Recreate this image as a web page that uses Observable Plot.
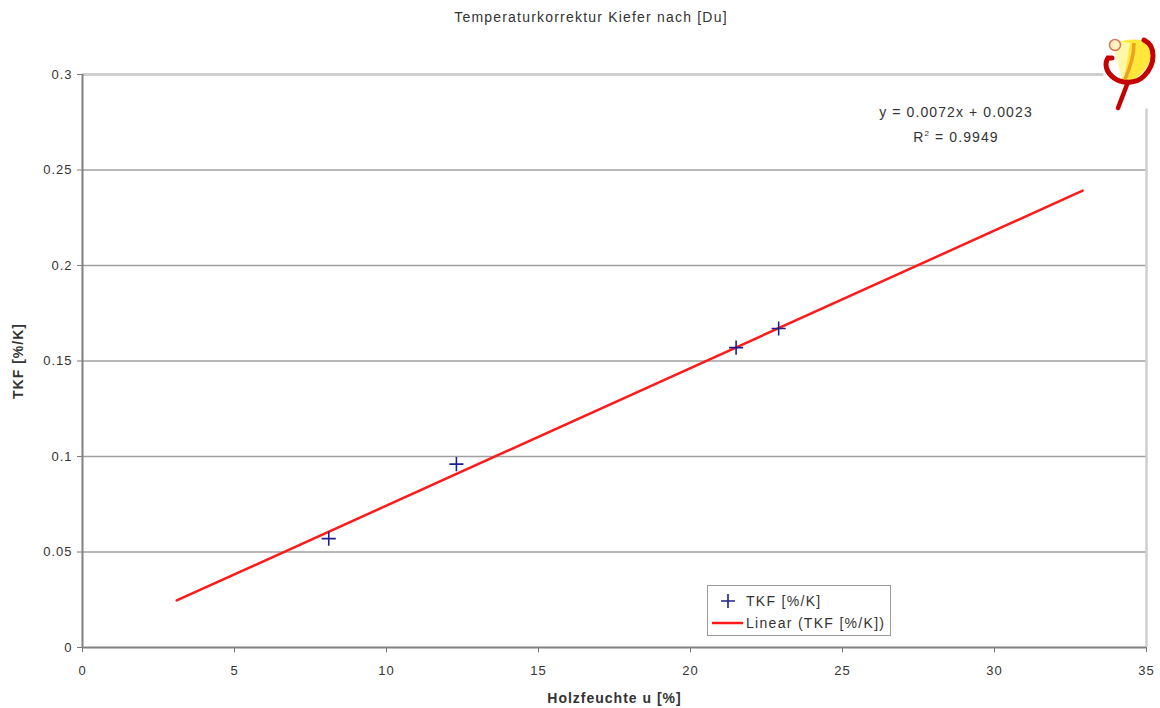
<!DOCTYPE html>
<html>
<head>
<meta charset="utf-8">
<script src="https://cdn.jsdelivr.net/npm/d3@7"></script>
<script src="https://cdn.jsdelivr.net/npm/@observablehq/plot@0.6"></script>
<style>
  html, body { margin: 0; padding: 0; background: #fff; }
  #wrap { position: relative; width: 1160px; height: 708px; font-family: "Liberation Sans", Arial, sans-serif; color: #333; }
  #title { position: absolute; left: 0; width: 1182px; top: 9px; text-align: center; font-size: 14px; letter-spacing: 1.2px; }
  #logo { position: absolute; left: 1098px; top: 34px; }
  .eq { position: absolute; font-size: 14px; letter-spacing: 1.1px; text-align: center; width: 220px; left: 846px; }
  #legend { position: absolute; left: 707px; top: 585px; width: 182px; height: 49px; border: 1.5px solid #999; background: #fff; font-size: 14px; letter-spacing: 1.3px; white-space: nowrap; }
  #legend .row { position: absolute; left: 0; height: 20px; line-height: 20px; }
  svg text { font-family: "Liberation Sans", Arial, sans-serif; }
  #chart svg text { letter-spacing: 1px; }
</style>
</head>
<body>
<div id="wrap">
  <div id="title"></div>
  <div class="eq" id="eq1" style="top:104px"></div>
  <div class="eq" id="eq2" style="top:129px"></div>
  <div id="chart"></div>
  <div id="legend">
    <div class="row" style="top:5px;"><svg width="38" height="20" style="vertical-align:top"><path d="M20,3V17M13,10H27" stroke="#1f1f8f" stroke-width="1.6" fill="none"/></svg><span id="leg1"></span></div>
    <div class="row" style="top:27px;"><svg width="38" height="20" style="vertical-align:top"><path d="M4,10H35" stroke="#ff1a1a" stroke-width="2.5"/></svg><span id="leg2"></span></div>
  </div>
  <svg id="logo" width="62" height="78" viewBox="0 0 62 78">
    <path d="M16,10 C28,4 44,4 52,10 C56,22 50,36 38,44 C32,48 26,48 24,44 Z" fill="#ffe83a"/>
    <path d="M16,10 C22,8 28,8 32,9 L26,44 C22,40 18,26 16,10 Z" fill="#fff8a8"/>
    <path d="M36,9 C36,22 32,34 27,45" stroke="#f0a020" stroke-width="3.5" fill="none"/>
    <path d="M46,6 C58,12 58,30 46,42 C38,50 24,50 16,44 C8,38 6,30 10,24 L14,24" stroke="#c40000" stroke-width="5" fill="none" stroke-linecap="round"/>
    <path d="M30,48 L20,74" stroke="#c40000" stroke-width="4.5" stroke-linecap="round"/>
    <circle cx="17" cy="11" r="5.5" fill="#fff2c0" stroke="#d47a5a" stroke-width="1.5"/>
  </svg>
</div>
<script>
// ---- data ----
const titleText = "Temperaturkorrektur Kiefer nach [Du]";
const xLabel = "Holzfeuchte u [%]";
const yLabel = "TKF [%/K]";
const seriesName = "TKF [%/K]";
const trendName = "Linear (TKF [%/K])";
const eqText = "y = 0.0072x + 0.0023";
const r2Value = "0.9949";

const moisture = [8.1, 12.3, 21.5, 22.9];          // Holzfeuchte u [%]
const tkf      = [0.057, 0.096, 0.157, 0.167];      // TKF [%/K]

const trendSlope = 0.0072;
const trendIntercept = 0.0023;
const trendXRange = [3.1, 32.9];

const xTicks = [0, 5, 10, 15, 20, 25, 30, 35];
const yTicks = [0, 0.05, 0.1, 0.15, 0.2, 0.25, 0.3];

// ---- build ----
document.getElementById("title").textContent = titleText;
document.getElementById("eq1").textContent = eqText;
document.getElementById("eq2").innerHTML = "R<sup style='font-size:8px'>2</sup> = " + r2Value;
document.getElementById("leg1").textContent = seriesName;
document.getElementById("leg2").textContent = trendName;

const points = moisture.map((m, i) => ({x: m, y: tkf[i]}));
const trend = trendXRange.map(x => ({x, y: trendSlope * x + trendIntercept}));

const plusSymbol = {
  draw(ctx, size) {
    const h = Math.sqrt(size / Math.PI) * 1.5;
    ctx.moveTo(-h, 0); ctx.lineTo(h, 0);
    ctx.moveTo(0, -h); ctx.lineTo(0, h);
  }
};

const chart = Plot.plot({
  width: 1160,
  height: 708,
  marginLeft: 82,
  marginRight: 14,
  marginTop: 74,
  marginBottom: 61,
  style: {fontSize: "13px", color: "#333", background: "transparent"},
  x: {domain: [0, 35]},
  y: {domain: [0, 0.3]},
  marks: [
    Plot.ruleY(yTicks.filter(d => d > 0 && d < 0.3), {stroke: "#a0a0a0", strokeWidth: 1.5}),
    Plot.ruleY([0.3], {stroke: "#cfcfcf", strokeWidth: 3, x1: 0, x2: 33.6}),
    Plot.ruleX([35], {stroke: "#cfcfcf", strokeWidth: 2.5, y1: 0, y2: 0.282}),
    Plot.axisX({ticks: xTicks, tickSize: 5, tickPadding: 13, tickFormat: d => String(d), stroke: "#777", fill: "#333", label: null}),
    Plot.axisY({ticks: yTicks, tickSize: 5, tickPadding: 5, tickFormat: d => String(d), stroke: "#777", fill: "#333", label: null}),
    Plot.ruleY([0], {stroke: "#808080", strokeWidth: 2}),
    Plot.ruleX([0], {stroke: "#808080", strokeWidth: 2}),
    Plot.line(trend, {x: "x", y: "y", stroke: "#ff1a1a", strokeWidth: 2.5}),
    Plot.dot(points, {x: "x", y: "y", symbol: plusSymbol, r: 4.7, stroke: "#1f1f8f", strokeWidth: 1.6, fill: "none"}),
    Plot.text([xLabel], {frameAnchor: "bottom", dy: 55, fontWeight: "bold", fontSize: 14, fill: "#333"}),
    Plot.text([yLabel], {frameAnchor: "left", dx: -64, rotate: -90, textAnchor: "middle", fontWeight: "bold", fontSize: 14, fill: "#333"})
  ]
});
document.getElementById("chart").appendChild(chart);
</script>
</body>
</html>
